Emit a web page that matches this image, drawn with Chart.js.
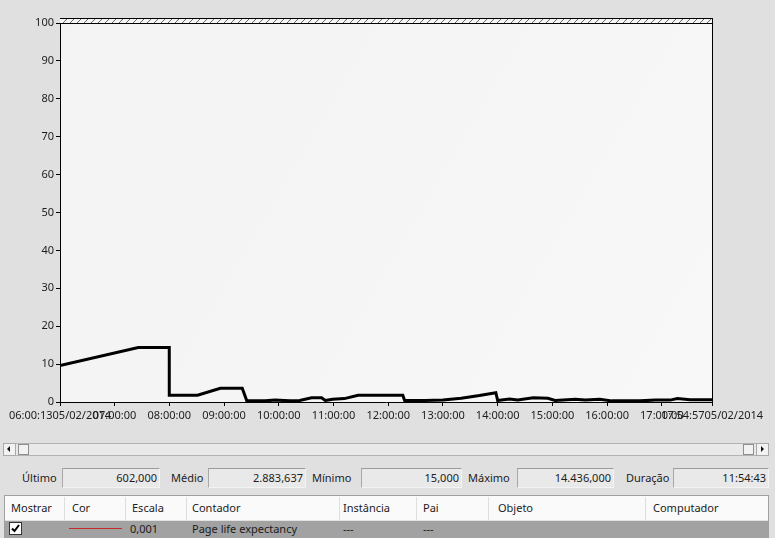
<!DOCTYPE html>
<html>
<head>
<meta charset="utf-8">
<script src="https://cdn.jsdelivr.net/npm/chart.js@4.4.1/dist/chart.umd.min.js"></script>
<style>
  body { margin:0; width:775px; height:538px; overflow:hidden; position:relative;
         background:#e0e0e0; font-family:'Noto Sans', sans-serif; font-size:11px; color:#1c1c1c; }
  #chartBox { position:absolute; left:0; top:0; width:775px; height:440px; }
  .a { position:absolute; white-space:nowrap; }
  .lbl { top:468px; height:20px; line-height:20px; }
  .box { top:468px; height:20px; box-sizing:border-box; background:#e9e9e9;
         border-top:1px solid #9c9c9c; border-left:1px solid #a8a8a8;
         border-right:1px solid #f3f3f3; border-bottom:1px solid #f3f3f3;
         text-align:right; padding-right:2px; line-height:18px; }
  .sb { box-sizing:border-box; background:#f2f2f2; border:1px solid #a9a9a9; }
  .hd { top:496px; height:24px; line-height:24px; }
  .sep { top:497px; width:1px; height:23px; background:#dedede; }
  .rw { top:521px; height:16px; line-height:16px; }
</style>
</head>
<body>
<div id="chartBox"><canvas id="perfChart" width="775" height="440"></canvas></div>

<!-- scrollbar -->
<div class="a" style="left:15px;top:443px;width:742px;height:13px;box-sizing:border-box;background:#e9e9e9;border-top:1px solid #b3b3b3;border-bottom:1px solid #b3b3b3;"></div>
<div class="a sb" style="left:3px;top:443px;width:13px;height:13px;"></div>
<div class="a" style="left:7px;top:446px;width:0;height:0;border-top:3px solid transparent;border-bottom:3px solid transparent;border-right:3px solid #111;"></div>
<div class="a sb" style="left:18px;top:444px;width:11px;height:11px;border-color:#8e8e8e;"></div>
<div class="a sb" style="left:743px;top:444px;width:11px;height:11px;border-color:#8e8e8e;"></div>
<div class="a sb" style="left:756px;top:443px;width:13px;height:13px;"></div>
<div class="a" style="left:761px;top:446px;width:0;height:0;border-top:3px solid transparent;border-bottom:3px solid transparent;border-left:3px solid #111;"></div>

<!-- statistics row -->
<div class="a lbl" style="left:22px;">Último</div>
<div class="a box" style="left:62px;width:98px;">602,000</div>
<div class="a lbl" style="left:171px;">Médio</div>
<div class="a box" style="left:208px;width:98px;">2.883,637</div>
<div class="a lbl" style="left:312px;">Mínimo</div>
<div class="a box" style="left:361px;width:101px;">15,000</div>
<div class="a lbl" style="left:468px;">Máximo</div>
<div class="a box" style="left:517px;width:97px;">14.436,000</div>
<div class="a lbl" style="left:626px;">Duração</div>
<div class="a box" style="left:673px;width:96px;">11:54:43</div>

<!-- counter table -->
<div class="a" style="left:4px;top:495px;width:765px;height:60px;box-sizing:border-box;border:1px solid #a0a0a0;background:#fafafa;"></div>
<div class="a" style="left:5px;top:520px;width:763px;height:1px;background:#e2e2e2;"></div>
<div class="a sep" style="left:64px;"></div>
<div class="a sep" style="left:125px;"></div>
<div class="a sep" style="left:186px;"></div>
<div class="a sep" style="left:339px;"></div>
<div class="a sep" style="left:416px;"></div>
<div class="a sep" style="left:488px;"></div>
<div class="a sep" style="left:645px;"></div>
<div class="a hd" style="left:11px;">Mostrar</div>
<div class="a hd" style="left:72px;">Cor</div>
<div class="a hd" style="left:132px;">Escala</div>
<div class="a hd" style="left:192px;">Contador</div>
<div class="a hd" style="left:343px;">Instância</div>
<div class="a hd" style="left:423px;">Pai</div>
<div class="a hd" style="left:498px;">Objeto</div>
<div class="a hd" style="left:653px;">Computador</div>

<div class="a" style="left:5px;top:521px;width:763px;height:20px;background:#a2a2a2;"></div>
<svg class="a" style="left:9px;top:522px;" width="13" height="13">
  <rect x="0.5" y="0.5" width="12" height="12" fill="#fff" stroke="#333"/>
  <path d="M3 6.5 L5.5 9 L10 3" stroke="#000" stroke-width="2" fill="none"/>
</svg>
<div class="a" style="left:69px;top:528px;width:53px;height:1px;background:#c42b2b;"></div>
<div class="a rw" style="left:130px;">0,001</div>
<div class="a rw" style="left:192px;">Page life expectancy</div>
<div class="a rw" style="left:343px;">---</div>
<div class="a rw" style="left:423px;">---</div>

<script>
// Page life expectancy samples (scale 0,001)
const sampleTimes = ['06:00:13', '07:26:00', '08:00:00', '08:00:00', '08:31:00', '08:56:00', '09:20:00', '09:25:00',
  '09:45:00', '09:56:00', '10:12:00', '10:23:00', '10:36:00', '10:47:00', '10:51:00', '10:59:00',
  '11:12:00', '11:27:00', '12:16:00', '12:18:00', '12:40:00', '13:00:00', '13:20:00', '13:40:00',
  '13:58:00', '14:00:00', '14:13:00', '14:22:00', '14:39:00', '14:55:00', '15:03:00', '15:25:00',
  '15:36:00', '15:52:00', '16:05:00', '16:36:00', '16:53:00', '17:09:00', '17:17:00', '17:31:00', '17:54:57'];
const pageLifeScaled = [9.6, 14.4, 14.4, 1.8, 1.8, 3.6, 3.6, 0.3,
  0.3, 0.5, 0.3, 0.4, 1.1, 1.1, 0.4, 0.7,
  0.9, 1.8, 1.8, 0.4, 0.4, 0.5, 1.0, 1.7,
  2.45, 0.4, 0.8, 0.5, 1.1, 1.0, 0.4, 0.7,
  0.5, 0.7, 0.3, 0.3, 0.5, 0.5, 0.9, 0.6, 0.6];

const xTickTimes = ['06:00:13', '07:00:00', '08:00:00', '09:00:00', '10:00:00', '11:00:00', '12:00:00',
  '13:00:00', '14:00:00', '15:00:00', '16:00:00', '17:00:00', '17:54:57'];
const xTickLabels = ['06:00:1305/02/2014', '07:00:00', '08:00:00', '09:00:00', '10:00:00', '11:00:00', '12:00:00',
  '13:00:00', '14:00:00', '15:00:00', '16:00:00', '17:00:00', '17:54:5705/02/2014'];

function toHours(t) {
  const p = t.split(':').map(Number);
  return p[0] + p[1] / 60 + p[2] / 3600;
}

const startHour = toHours(sampleTimes[0]);
const endHour = toHours(sampleTimes[sampleTimes.length - 1]);

// plot background, hatched band on top and frame
const panelPlugin = {
  id: 'panel',
  beforeDraw(chart) {
    const { ctx, chartArea: a } = chart;
    ctx.save();
    const g = ctx.createLinearGradient(a.left, a.top, a.right, a.bottom);
    g.addColorStop(0, '#f3f3f3');
    g.addColorStop(1, '#f8f8f8');
    ctx.fillStyle = g;
    ctx.fillRect(a.left, a.top, a.right - a.left, a.bottom - a.top);

    const bandTop = a.top - 5;
    ctx.fillStyle = '#f5f5f5';
    ctx.fillRect(a.left, bandTop, a.right - a.left, 5);
    ctx.beginPath();
    ctx.rect(a.left, bandTop, a.right - a.left, 5);
    ctx.clip();
    ctx.beginPath();
    ctx.strokeStyle = '#666';
    ctx.lineWidth = 1;
    for (let x = a.left; x < a.right + 10; x += 7) {
      ctx.moveTo(x - 4, a.top);
      ctx.lineTo(x + 1, bandTop);
    }
    ctx.stroke();
    ctx.restore();
  },
  beforeDatasetsDraw(chart) {
    const { ctx, chartArea: a } = chart;
    ctx.save();
    ctx.strokeStyle = '#000';
    ctx.lineWidth = 1;
    ctx.beginPath();
    ctx.moveTo(a.left, a.top - 5 + 0.5); ctx.lineTo(a.right + 1, a.top - 5 + 0.5);
    ctx.moveTo(a.left, a.top + 0.5); ctx.lineTo(a.right + 1, a.top + 0.5);
    ctx.moveTo(a.right + 0.5, a.top - 5); ctx.lineTo(a.right + 0.5, a.bottom);
    ctx.stroke();
    ctx.restore();
  }
};

Chart.defaults.font.family = "'Noto Sans', sans-serif";
Chart.defaults.font.size = 11;
Chart.defaults.color = '#1c1c1c';

new Chart(document.getElementById('perfChart'), {
  type: 'line',
  data: {
    datasets: [{
      label: 'Page life expectancy',
      data: sampleTimes.map((t, i) => ({ x: toHours(t), y: pageLifeScaled[i] })),
      borderColor: '#000',
      borderWidth: 3,
      pointRadius: 0,
      tension: 0,
      fill: false
    }]
  },
  options: {
    responsive: false,
    animation: false,
    layout: { padding: { left: 0, top: 23, right: 63, bottom: 0 } },
    plugins: { legend: { display: false }, tooltip: { enabled: false } },
    scales: {
      x: {
        type: 'linear',
        min: startHour,
        max: endHour,
        afterBuildTicks: s => { s.ticks = xTickTimes.map(t => ({ value: toHours(t) })); },
        afterFit: s => { s.height = 38; },
        ticks: {
          autoSkip: false, maxRotation: 0, minRotation: 0, padding: 3,
          callback: (v, i) => xTickLabels[i]
        },
        grid: { drawOnChartArea: false, drawTicks: true, tickLength: 4, color: '#000' },
        border: { color: '#000', width: 1 }
      },
      y: {
        min: 0,
        max: 100,
        afterFit: s => { s.width = 60; },
        ticks: { stepSize: 10, padding: 2 },
        grid: { drawOnChartArea: false, drawTicks: true, tickLength: 4, color: '#000' },
        border: { color: '#000', width: 1 }
      }
    }
  },
  plugins: [panelPlugin]
});
</script>
</body>
</html>
